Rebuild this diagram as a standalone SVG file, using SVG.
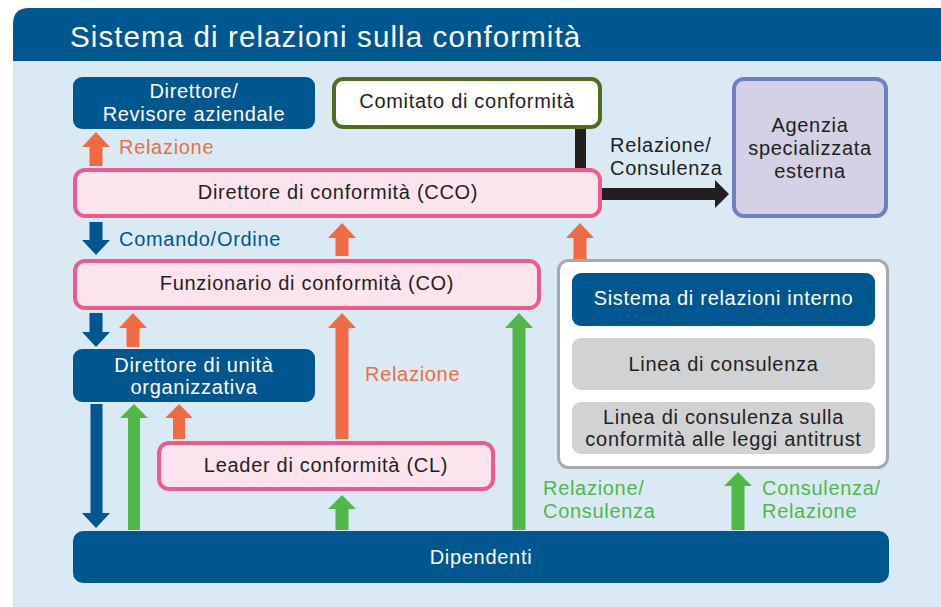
<svg xmlns="http://www.w3.org/2000/svg" width="941" height="607" viewBox="0 0 941 607">
<style>
text{font-family:"Liberation Sans",Arial,Helvetica,sans-serif;font-size:20px;letter-spacing:0.7px}
.t{fill:#FFFFFF;font-size:29.5px;letter-spacing:1.1px}
.w{fill:#FFFFFF;text-anchor:middle}
.k{fill:#231F20;text-anchor:middle}
.kl{fill:#231F20}
.o{fill:#F26A44}
.b{fill:#00558F}
.g{fill:#50B848}
.blue{fill:#00568F}
.pink{fill:#FCE4EE;stroke:#EE5A8B;stroke-width:4}
.gray{fill:#D1D2D4}
.ao{fill:#F26A44}
.ab{fill:#00568F}
.ag{fill:#50B848}
</style>
<rect x="0" y="0" width="941" height="607" fill="#FFFFFF"/>
<path d="M13,61 V24 Q13,8 29,8 H941 V61 Z" fill="#00578F"/>
<rect x="13" y="61" width="928" height="546" fill="#D9EAF5"/>
<text class="t" x="70" y="47">Sistema di relazioni sulla conformità</text>

<g id="connectors">
<path class="ao" d="M96,132 L110,147 L102.5,147 L102.5,166 L89.5,166 L89.5,147 L82,147 Z"/>
<path class="ab" d="M96,255 L110,240 L102.5,240 L102.5,222 L89.5,222 L89.5,240 L82,240 Z"/>
<path class="ao" d="M342,223 L356,238 L348.5,238 L348.5,256 L335.5,256 L335.5,238 L328,238 Z"/>
<path class="ao" d="M580,223 L594,238 L586.5,238 L586.5,260 L573.5,260 L573.5,238 L566,238 Z"/>
<path class="ab" d="M96,347 L110,332 L102.5,332 L102.5,313 L89.5,313 L89.5,332 L82,332 Z"/>
<path class="ao" d="M133,313 L147,328 L139.5,328 L139.5,347 L126.5,347 L126.5,328 L119,328 Z"/>
<path class="ao" d="M342,313 L356,328 L348.5,328 L348.5,439 L335.5,439 L335.5,328 L328,328 Z"/>
<path class="ag" d="M519,313 L533,328 L525.5,328 L525.5,530 L512.5,530 L512.5,328 L505,328 Z"/>
<path class="ab" d="M96,528 L110,513 L102.5,513 L102.5,404 L90.5,404 L90.5,513 L82,513 Z"/>
<path class="ag" d="M134,404 L148,418 L140,418 L140,530 L128,530 L128,418 L120,418 Z"/>
<path class="ao" d="M179,404 L193,418 L185,418 L185,439 L173,439 L173,418 L165,418 Z"/>
<path class="ag" d="M342,495 L356,509 L348.5,509 L348.5,530 L335.5,530 L335.5,509 L328,509 Z"/>
<path class="ag" d="M738,472 L752,486 L744.5,486 L744.5,530 L731.5,530 L731.5,486 L724,486 Z"/>
<rect x="575" y="127" width="11" height="43" fill="#231F20"/>
<path d="M602,188 L715,188 L715,180 L729,194 L715,208 L715,200 L602,200 Z" fill="#231F20"/>
<text class="o" x="119" y="154">Relazione</text>
<text class="b" x="119" y="246">Comando/Ordine</text>
<text class="o" x="365" y="381">Relazione</text>
<text class="kl" x="610" y="152">Relazione/</text>
<text class="kl" x="610" y="175">Consulenza</text>
<text class="g" x="543" y="495">Relazione/</text>
<text class="g" x="543" y="518">Consulenza</text>
<text class="g" x="762" y="495">Consulenza/</text>
<text class="g" x="762" y="518">Relazione</text>
</g>

<g id="direttore-revisore">
<rect class="blue" x="73" y="77" width="242" height="52" rx="9"/>
<text class="w" x="194" y="98">Direttore/</text>
<text class="w" x="194" y="121">Revisore aziendale</text>
</g>

<g id="comitato">
<rect x="334" y="79" width="266" height="48" rx="9" fill="#FFFFFF" stroke="#4D6E1F" stroke-width="4"/>
<text class="k" x="467" y="108">Comitato di conformità</text>
</g>

<g id="agenzia">
<rect x="734" y="79" width="152" height="137" rx="10" fill="#D4D0E6" stroke="#6F7FC0" stroke-width="4"/>
<text class="k" x="810" y="132">Agenzia</text>
<text class="k" x="810" y="155">specializzata</text>
<text class="k" x="810" y="178">esterna</text>
</g>

<g id="cco">
<rect class="pink" x="75" y="170" width="525" height="46" rx="10"/>
<text class="k" x="338" y="199">Direttore di conformità (CCO)</text>
</g>

<g id="co">
<rect class="pink" x="75" y="261" width="464" height="47" rx="10"/>
<text class="k" x="307" y="290">Funzionario di conformità (CO)</text>
</g>

<g id="direttore-unita">
<rect class="blue" x="73" y="349" width="242" height="53" rx="9"/>
<text class="w" x="194" y="372">Direttore di unità</text>
<text class="w" x="194" y="394">organizzativa</text>
</g>

<g id="cl">
<rect class="pink" x="159" y="443" width="334" height="46" rx="10"/>
<text class="k" x="326" y="472">Leader di conformità (CL)</text>
</g>

<g id="sistema-interno">
<rect x="558.5" y="260.5" width="329" height="207" rx="10" fill="#FFFFFF" stroke="#A7A9AC" stroke-width="3"/>
<rect class="blue" x="572" y="273" width="303" height="53" rx="9"/>
<text class="w" x="723.5" y="305">Sistema di relazioni interno</text>
<rect class="gray" x="572" y="338" width="303" height="52" rx="9"/>
<text class="k" x="723.5" y="371">Linea di consulenza</text>
<rect class="gray" x="572" y="402" width="303" height="52" rx="9"/>
<text class="k" x="723.5" y="424">Linea di consulenza sulla</text>
<text class="k" x="723.5" y="446">conformità alle leggi antitrust</text>
</g>

<g id="dipendenti">
<rect class="blue" x="73" y="531" width="816" height="52" rx="10"/>
<text class="w" x="481" y="564">Dipendenti</text>
</g>
</svg>
